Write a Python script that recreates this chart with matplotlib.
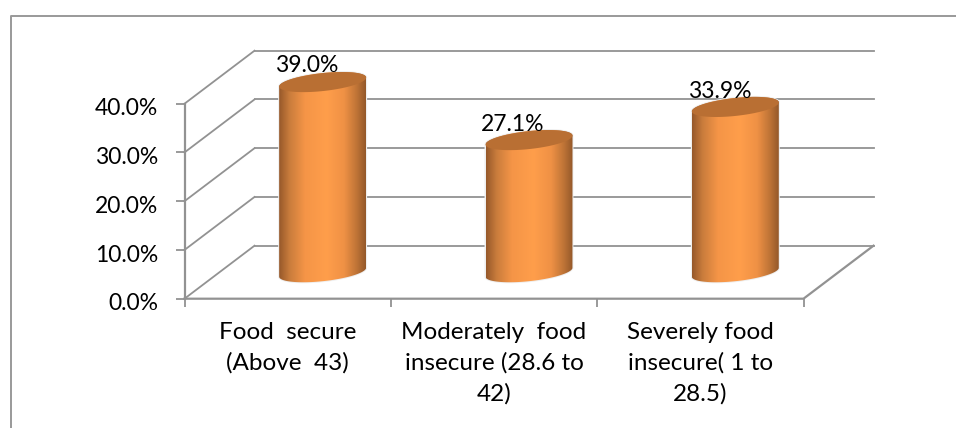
import numpy as np
import matplotlib
matplotlib.use('Agg')
import matplotlib.pyplot as plt
from matplotlib.colors import LinearSegmentedColormap
from matplotlib.lines import Line2D
from matplotlib.patches import Polygon
from matplotlib.transforms import ScaledTranslation

plt.rcParams['font.family'] = ['Lato', 'DejaVu Sans']

categories = ['Food  secure\n(Above  43)',
              'Moderately  food\ninsecure (28.6 to\n42)',
              'Severely food\ninsecure( 1 to\n28.5)']
values = [39.0, 27.1, 33.9]
value_labels = ['39.0%', '27.1%', '33.9%']
yticks = [0, 10, 20, 30, 40]
ytick_labels = ['0.0%', '10.0%', '20.0%', '30.0%', '40.0%']

W, H = 956, 428
# front plane of the box in pixels
x0, x1 = 184.5, 803.5
y0, y40 = 298.7, 103.7
depth_px = (70, 53)
px_x = (x1 - x0) / 3          # pixels per category
px_y = (y0 - y40) / 40        # pixels per percent
dx = depth_px[0] / px_x
dy = depth_px[1] / px_y

fig = plt.figure(figsize=(W / 100, H / 100), dpi=100)
ax = fig.add_axes([x0 / W, 1 - y0 / H, (x1 - x0 + depth_px[0]) / W, (y0 - y40 + depth_px[1]) / H])
ax.set_xlim(0, 3 + dx)
ax.set_ylim(0, 40 + dy)
for s in ax.spines.values():
    s.set_visible(False)
ax.patch.set_visible(False)

grey = '#929292'
lw = 1.3

# outer border of the chart area
fig.add_artist(Line2D([10.5 / W, 10.5 / W, 956 / W], [0, 1 - 15.5 / H, 1 - 15.5 / H], color='#999999', lw=1.4))

# walls and floor
for v in yticks:
    ax.plot([0, dx], [v, v + dy], color=grey, lw=lw, clip_on=False, zorder=1)
    ax.plot([dx, 3 + dx], [v + dy, v + dy], color=grey, lw=lw, clip_on=False, zorder=1)
ax.plot([0, 3, 3 + dx], [0, 0, dy], color=grey, lw=lw + 0.3, clip_on=False, zorder=1)
ax.plot([0, 0], [0, 40], color=grey, lw=lw + 0.3, clip_on=False, zorder=1)

# ticks and labels
ax.set_yticks(yticks)
ax.set_yticklabels(ytick_labels, fontsize=16.5, color='black')
ax.set_xticks([0, 1, 2, 3])
ax.set_xticklabels([])
ax.set_xticks([0.5, 1.5, 2.5], minor=True)
ax.set_xticklabels(categories, minor=True, fontsize=17.5, color='black', linespacing=1.55, va='top')
ax.tick_params(axis='y', length=6.5, width=1.3, color=grey, pad=12.5)
ax.tick_params(axis='x', which='major', length=6, width=1.3, color=grey)
ax.tick_params(axis='x', which='minor', length=0, pad=16.5)
for lab in ax.get_yticklabels():
    lab.set_transform(lab.get_transform() + ScaledTranslation(0, -2.3 / 72, fig.dpi_scale_trans))

# cylinder shading
shade = LinearSegmentedColormap.from_list('shade', [
    (0.0, '#96582a'), (0.12, '#c97c3c'), (0.3, '#f59547'),
    (0.55, '#ff9e4b'), (0.75, '#ef9145'), (0.9, '#bd7336'), (1.0, '#94582a')])
grad = np.linspace(0, 1, 256).reshape(1, -1)

half_w = 43.5 / px_x
tilt = 4.5 / px_y
half_h = 9.0 / px_y
t = np.linspace(0, 2 * np.pi, 121)
label_lift = [12, 11, 11]

for i, v in enumerate(values):
    cx = i + 0.5 + dx / 2
    base = dy / 2
    ex = cx + half_w * np.cos(t)
    ey = tilt * np.cos(t) + half_h * np.sin(t)

    # outline of the whole body: lower half of the bottom ellipse, upper half of the top one
    left = np.argmin(ex)
    lower = np.arange(left, len(t) - 1)           # left -> bottom -> right
    upper = np.arange(0, left + 1)                # right -> top -> left
    bx = np.r_[ex[lower], ex[upper]]
    by = np.r_[ey[lower] + base, ey[upper] + base + v]

    # faint halo, then the shaded body clipped to the outline
    ax.add_patch(Polygon(np.c_[bx, by], closed=True, fc='none', ec='#eeeeee', lw=1.4, zorder=2))
    body = Polygon(np.c_[bx, by], closed=True, transform=ax.transData, fc='none', ec='none')
    ax.add_patch(body)
    img = ax.imshow(grad, cmap=shade, aspect='auto', zorder=3,
                    extent=[cx - half_w, cx + half_w, base - 3, base + v + 3])
    img.set_clip_path(body)

    # top cap
    ax.fill(ex, ey + base + v, color='#b96f33', zorder=4, lw=0)

    ax.annotate(value_labels[i], (cx, base + v), xytext=(-11.5, label_lift[i]), textcoords='offset points',
                ha='center', va='center', fontsize=16.5, color='black', zorder=5)

ax.set_xlim(0, 3 + dx)
ax.set_ylim(0, 40 + dy)

fig.savefig('out.png', dpi=100)
